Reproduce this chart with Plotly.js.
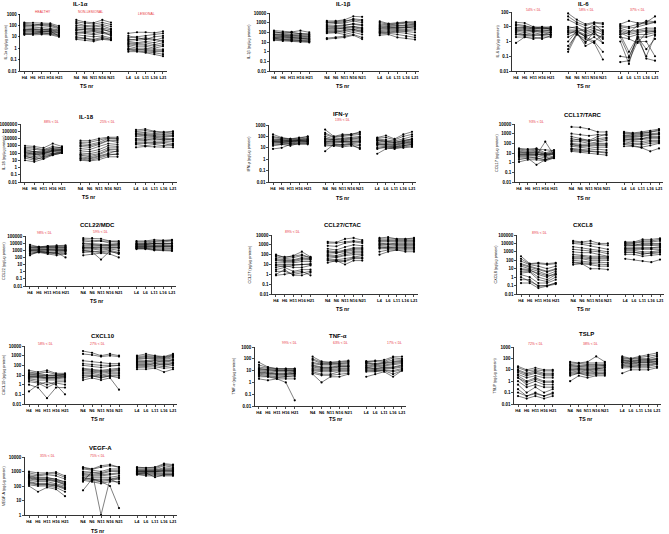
<!DOCTYPE html>
<html><head><meta charset="utf-8">
<script src="https://cdn.plot.ly/plotly-3.0.1.min.js"></script>
<style>html,body{margin:0;padding:0;background:#fff}#c{width:669px;height:534px}</style>
</head><body><div id="c"></div>
<script>
const cats = ['H4','H6','H11','H16','H21','N4','N6','N11','N16','N21','L4','L6','L11','L16','L21'];
const groupLabels = ['HEALTHY','NON-LESIONAL','LESIONAL'];

// IL-1α
const IL1a_H=[[180,170,160,150,90],[150,120,110,100,60],[120,100,130,120,70],[100,90,95,80,50],[80,70,60,55,40],[60,55,50,40,30],[45,40,35,35,25],[40,45,40,45,35],[35,30,30,25,20],[30,35,28,30,22],[25,25,20,20,15],[20,18,22,18,12],[18,15,16,15,10],[15,20,25,30,12]];
const IL1a_N=[[300,200,170,300,180],[200,150,130,180,120],[150,100,90,120,80],[100,80,70,90,50],[70,60,50,60,40],[50,40,35,40,30],[40,50,45,50,25],[35,30,30,25,20],[25,20,15,20,15],[20,25,20,30,12],[15,12,10,12,8],[10,8,6,9,6],[8,7,5,7,6],[6,5,4,6,5]];
const IL1a_L=[[20,25,25,22,30],[12,8,6,10,12],[8,10,12,15,20],[6,5,6,5,8],[5,6,8,6,4],[4,3,4,3,5],[3,2.5,3,2,3],[2.5,2,2,1.5,2],[2,1.5,1.5,1,1.5],[1.5,1,1,0.8,0.8],[1,0.8,0.6,0.5,0.5],[0.8,0.7,0.8,0.6,0.6],[0.7,0.6,0.5,0.4,0.3],[0.5,0.5,0.4,0.3,0.2]];
// IL-1β
const IL1b_H=[[150,120,110,150,100],[120,80,100,70,60],[100,90,90,80,70],[70,60,60,55,50],[60,55,50,45,40],[55,50,45,40,35],[45,40,35,30,28],[35,30,28,25,22],[30,35,30,25,20],[28,25,22,20,18],[25,18,16,14,12],[22,20,18,15,14],[18,15,14,12,11],[15,13,12,10,9]];
const IL1b_N=[[1500,1500,2000,4500,4000],[1200,1000,1200,2500,2000],[1000,1200,1500,2000,1500],[700,800,900,1500,1000],[500,400,500,800,600],[400,500,600,700,500],[300,300,350,400,300],[250,200,300,400,250],[200,250,250,300,200],[150,150,180,200,150],[120,100,150,200,120],[100,120,100,150,100],[80,90,60,100,60],[25,30,40,60,30],[20,25,30,50,20]];
const IL1b_L=[[1400,800,1000,1200,1100],[1000,700,800,1100,1200],[700,600,700,900,800],[500,400,500,600,700],[400,500,450,500,600],[300,350,300,400,500],[250,300,350,300,400],[200,250,250,300,350],[150,200,200,200,250],[120,150,150,150,180],[100,120,130,120,100],[90,100,100,80,50],[70,80,60,40,30],[50,60,30,25,18]];
// IL-6
const IL6_H=[[20,18,10,8,10],[15,12,8,9,7],[12,10,9,10,9],[9,8,8,7,8],[8,9,7,8,7],[7,7,6,6,6],[6,6,5,5,5],[6,5,6,5,6],[5,4,5,4,4],[4,3,4,3,4],[3,2.5,3,2.5,3],[3,3,2.5,3,3],[2,2,2,1.5,2.5],[0.8,2,1.5,2,2]];
const IL6_N=[[80,30,15,20,18],[50,20,12,18,15],[30,15,8,10,10],[10,8,6,15,5],[8,10,4,6,6],[6,6,5,8,4],[5,5,3,5,3],[4,4,2.5,3,2],[3,6,2,1,3],[2,4,0.8,5,0.8],[1,5,2,4,1.5],[0.5,3,1,2,0.8],[0.3,4,0.5,1,0.2],[0.2,3,1.5,0.8,0.06]];
const IL6_L=[[15,25,18,20,50],[12,10,15,18,20],[10,8,10,15,20],[8,5,6,8,8],[6,4,5,6,6],[5,3,4,5,5],[4,2,3,3,4],[3,0.2,2,2,3],[2,0.1,1.5,0.1,2.5],[2,1.5,0.8,4,5],[0.1,0.08,2,0.3,1.5],[0.04,0.05,1,1,0.1],[1,0.03,3,0.07,0.05],[3,4,12,25,22]];
// IL-18
const IL18_H=[[1000,800,500,2000,800],[600,500,300,800,500],[400,300,250,500,600],[300,150,120,250,300],[200,150,200,400,400],[150,100,150,300,300],[120,60,80,200,200],[100,80,100,200,250],[70,50,80,150,200],[50,30,60,100,150],[40,15,20,70,130],[30,20,40,80,120],[20,10,30,60,100],[10,6,15,50,100]];
const IL18_N=[[5000,5000,10000,15000,15000],[3000,3000,6000,12000,10000],[2000,1500,3000,10000,8000],[1200,1000,2000,6000,5000],[800,600,1500,5000,3000],[400,300,800,2000,1500],[200,150,300,1000,800],[100,80,150,500,500],[60,50,80,300,300],[50,30,60,200,150],[30,20,40,100,200],[20,15,30,70,60],[15,10,20,50,80],[10,8,12,30,30]];
const IL18_L=[[150000,200000,100000,80000,100000],[100000,120000,80000,60000,80000],[80000,60000,50000,40000,50000],[50000,40000,30000,30000,30000],[40000,30000,25000,20000,25000],[30000,25000,20000,15000,20000],[20000,15000,15000,10000,10000],[10000,8000,8000,8000,6000],[8000,6000,10000,6000,8000],[5000,5000,4000,5000,4000],[3000,3000,2000,3000,2000],[2000,2000,3000,2000,1000],[1500,1000,1500,1000,1500],[600,800,700,700,600]];
// IFN-γ
const IFNg_H=[[150,80,60,70,100],[100,70,60,80,90],[80,60,50,60,70],[60,50,45,55,60],[50,45,40,50,50],[45,50,40,45,50],[40,40,35,45,45],[35,35,30,40,40],[35,30,35,40,35],[30,30,25,35,35],[25,25,20,30,30],[20,20,15,25,25],[15,20,25,25,25],[8,10,20,20,20]];
const IFNg_N=[[400,100,150,150,250],[200,90,120,150,200],[150,80,100,120,150],[100,60,70,80,100],[70,50,50,60,70],[60,50,60,70,80],[50,40,40,50,50],[40,30,35,40,40],[35,35,40,40,35],[30,25,30,30,30],[25,20,20,25,20],[20,15,20,20,15],[15,15,12,15,10],[5,20,15,20,8]];
const IFNg_L=[[80,120,60,150,250],[70,80,50,100,150],[60,50,40,60,100],[50,40,30,40,60],[45,35,30,45,60],[40,30,25,35,50],[30,25,20,30,40],[25,20,15,25,30],[20,20,18,25,35],[20,15,12,20,25],[15,12,10,15,20],[10,10,8,12,15],[8,12,12,15,20],[3,8,10,10,12]];
// CCL17/TARC
const CCL17_H=[[30,25,30,10,20],[25,20,25,20,18],[20,15,20,8,15],[15,12,15,6,12],[12,10,12,8,10],[10,10,10,5,10],[8,8,8,4,8],[7,7,7,6,7],[6,6,6,150,6],[5,5,5,3,5],[4,4,3,2,4],[3,3,0.6,2,3],[2,3,3,2,4],[1.2,2,2,1.5,3]];
const CCL17_N=[[5000,4500,3000,1500,1500],[1000,800,600,800,700],[500,300,200,500,900],[300,200,150,300,400],[200,250,200,200,300],[150,150,100,150,200],[100,80,80,100,100],[80,60,60,80,80],[70,50,50,60,60],[50,40,30,40,40],[30,25,20,25,20],[25,20,15,15,12],[20,15,15,12,10],[15,12,10,8,6]];
const CCL17_L=[[1500,1200,1500,2000,3000],[1200,1000,1200,1500,2500],[1000,800,1000,1500,2000],[700,600,800,1000,1200],[600,500,600,800,1000],[500,400,500,700,800],[400,300,300,500,500],[300,200,250,300,300],[250,250,300,400,400],[200,150,150,200,200],[150,100,100,150,150],[100,80,70,100,120],[80,60,40,60,100],[50,50,35,15,30]];
// CCL22/MDC
const CCL22_H=[[6000,3000,4000,5000,5000],[4000,3000,3500,3500,4000],[3000,2500,3000,3000,3000],[2500,2200,2500,2500,2500],[2000,2000,2000,2000,2000],[1500,1500,1500,1500,1500],[1200,1200,1000,1000,1200],[1000,1200,1200,1000,1000],[1000,1000,800,800,1000],[800,800,600,600,800],[600,600,400,400,600],[400,600,500,300,400],[300,500,300,200,300],[200,700,500,500,100]];
const CCL22_N=[[50000,50000,40000,20000,20000],[30000,25000,20000,15000,15000],[20000,15000,20000,10000,10000],[10000,8000,6000,6000,8000],[8000,6000,5000,5000,6000],[5000,5000,4000,4000,5000],[3000,3000,2500,3000,3000],[2500,2500,2000,2500,2500],[2000,2000,1500,2000,2000],[1500,1500,1000,1500,1000],[1000,800,600,1000,500],[800,700,500,600,400],[500,600,50,800,300],[200,300,400,300,100]];
const CCL22_L=[[20000,20000,30000,25000,30000],[15000,15000,20000,20000,25000],[10000,10000,15000,15000,20000],[8000,8000,10000,10000,10000],[7000,7000,9000,8000,9000],[6000,6000,8000,7000,8000],[5000,5000,6000,5000,5000],[4000,4000,4000,4000,4000],[3500,3500,3500,3500,3500],[3000,3000,3000,3000,3000],[2500,2500,2000,2000,2000],[2000,2000,1500,1500,1500],[1800,1800,1200,1200,1000],[1500,1500,1000,1000,800]];
// CCL27/CTAC
const CCL27_H=[[100,50,80,200,60],[80,60,70,100,50],[60,40,50,80,50],[40,30,30,50,40],[30,25,25,40,35],[25,20,20,30,30],[15,15,15,20,20],[10,10,10,10,10],[8,6,8,10,12],[5,8,5,5,8],[3,5,2,3,3],[2,2,1,1.5,2],[1,3,0.8,0.8,1.5],[0.8,1,1.5,2,0.8]];
const CCL27_N=[[2000,1800,4000,5000,3000],[1500,1500,2000,2500,2000],[800,700,1500,2000,1500],[400,300,600,1000,800],[250,200,300,500,500],[200,150,250,400,400],[150,150,200,300,300],[100,80,150,200,200],[80,60,100,150,150],[60,50,80,100,100],[40,30,40,60,80],[30,25,25,50,50],[25,20,20,40,40],[15,25,10,25,25]];
const CCL27_L=[[5000,6000,4000,4000,5000],[4000,4000,3500,3500,4000],[3000,3000,3000,3000,3000],[2500,2500,2500,2500,2500],[2000,2000,2000,2000,2000],[1500,1200,1500,1500,1500],[1200,1200,1200,1200,1200],[1000,1000,1000,1000,1000],[800,700,800,800,800],[600,500,600,600,600],[500,500,500,500,500],[400,400,400,400,400],[200,300,300,300,300],[100,200,300,200,200]];
// CXCL8
const CXCL8_H=[[300,40,50,40,50],[150,35,40,30,40],[80,30,20,10,20],[40,20,10,5,10],[30,15,8,4,8],[20,10,5,2,5],[10,8,2,1,3],[8,6,3,1.5,2],[5,5,1,0.5,2],[3,4,0.5,0.3,1],[2,1,0.2,0.2,0.5],[1,0.3,0.1,0.1,0.2],[0.5,0.5,0.08,0.1,0.2],[0.2,0.2,0.05,0.08,0.15]];
const CXCL8_N=[[20000,15000,20000,10000,10000],[15000,12000,10000,8000,6000],[10000,8000,5000,3000,2000],[4000,3000,2000,1500,1000],[2000,1500,1200,1000,600],[1000,800,800,500,300],[500,400,300,300,250],[300,300,200,200,200],[200,200,150,150,150],[150,150,100,100,100],[100,80,60,60,50],[60,50,40,30,30],[50,40,30,20,20],[30,40,10,10,8]];
const CXCL8_L=[[15000,15000,30000,30000,40000],[12000,12000,20000,20000,30000],[10000,10000,15000,15000,20000],[8000,6000,10000,10000,10000],[6000,7000,8000,8000,8000],[5000,5000,5000,6000,6000],[3000,3000,3000,3000,4000],[2500,2500,2500,2500,3000],[2000,2000,2000,2000,2000],[1500,1500,1000,1000,1500],[1000,800,700,600,800],[800,1000,500,800,1000],[500,500,300,400,500],[150,120,80,60,120]];
// CXCL10
const CXCL10_H=[[30,20,30,15,15],[20,15,20,12,12],[15,15,10,10,12],[12,10,9,9,10],[10,10,8,8,10],[8,8,6,6,8],[7,7,5,6,7],[6,6,5,5,6],[5,5,4,4,5],[4,3,3,3,3],[3,2,1,2,2],[2,1.5,0.5,1.5,1],[1,0.5,0.04,0.5,0.5],[0.2,1,2,1,0.1]];
const CXCL10_N=[[3000,2000,1000,1500,1000],[1500,1200,800,1000,800],[300,250,200,150,150],[150,120,100,100,100],[100,80,60,80,100],[50,40,30,40,50],[40,30,25,30,40],[30,25,20,25,30],[20,20,15,20,20],[15,15,10,15,15],[10,10,8,10,10],[8,8,6,8,8],[5,8,5,8,5],[3,5,3,5,0.3]];
const CXCL10_L=[[1000,1500,1000,800,1500],[800,1000,900,700,1200],[600,800,700,600,1000],[500,600,600,500,800],[400,500,500,400,600],[300,300,400,300,400],[250,250,300,250,350],[200,200,300,200,300],[150,150,200,150,200],[120,120,150,120,150],[100,100,150,100,150],[80,80,100,70,100],[60,60,70,50,60],[40,40,50,20,40]];
// TNF-α
const TNFa_H=[[50,20,15,15,15],[30,18,14,14,14],[20,15,12,12,12],[15,12,10,10,10],[14,12,10,10,10],[12,10,8,8,8],[10,8,6,6,8],[8,6,5,5,6],[7,6,5,5,6],[6,5,4,4,5],[5,4,3,3,4],[4,3,2.5,3,3],[3,3,2,2,2],[2,1.5,2,1,0.03]];
const TNFa_N=[[150,60,50,60,70],[100,50,50,50,60],[80,40,40,40,50],[50,35,35,35,40],[40,30,30,30,30],[30,20,20,25,25],[25,18,18,22,22],[20,15,15,20,20],[15,12,12,15,15],[12,10,10,12,12],[10,8,8,10,10],[8,5,5,8,8],[6,4,4,5,6],[5,1,3,3,5]];
const TNFa_L=[[60,60,80,150,150],[60,70,60,120,100],[50,40,50,80,80],[45,35,45,60,70],[40,30,40,50,60],[30,25,30,40,50],[25,20,25,30,40],[20,15,20,20,30],[18,14,18,18,25],[15,12,15,15,20],[12,10,12,10,15],[10,9,11,8,12],[8,8,10,5,10],[3,5,8,3,10]];
// TSLP
const TSLP_H=[[20,10,15,10,10],[15,8,10,8,8],[10,5,8,5,5],[8,4,6,4,4],[6,3,5,3,3],[4,2,3,2,2],[3,1,2,1,1],[2,0.8,1.5,0.8,0.8],[2,0.5,1,0.5,0.5],[1,0.3,0.5,0.3,0.3],[0.5,0.1,0.3,0.1,0.2],[0.2,0.05,0.1,0.05,0.1],[0.1,0.05,0.08,0.05,0.08],[0.05,0.03,0.05,0.03,0.05]];
const TSLP_N=[[50,40,50,150,50],[40,35,40,40,40],[30,25,30,30,30],[25,20,25,25,25],[20,20,20,20,25],[15,15,15,15,20],[12,12,12,12,15],[10,12,10,12,15],[8,10,8,10,10],[6,8,6,8,8],[5,6,5,6,6],[4,5,4,5,4],[3,5,3,4,5],[1,3,2,3,3]];
const TSLP_L=[[150,100,150,200,300],[120,90,120,150,200],[100,80,100,100,150],[80,60,80,80,100],[70,55,70,70,90],[60,50,60,60,80],[50,40,50,50,60],[45,35,45,45,55],[40,30,40,40,50],[30,25,30,30,40],[25,20,25,25,35],[20,20,20,20,30],[15,15,15,15,20],[5,10,10,10,15]];
// VEGF-A
const VEGF_H=[[1000,800,800,900,500],[800,600,700,700,400],[600,500,600,500,300],[500,400,400,300,200],[450,350,350,300,180],[400,300,300,250,150],[350,280,280,220,130],[300,250,250,200,120],[250,200,200,150,100],[200,150,150,120,80],[180,130,130,110,70],[150,120,120,100,60],[120,100,100,80,40],[100,40,80,60,20]];
const VEGF_N=[[2000,1500,2500,3000,2000],[1800,1400,2000,2500,2000],[1500,1200,1000,1500,1500],[1000,900,800,1200,1200],[800,800,700,1000,1000],[700,600,600,700,800],[600,500,500,600,700],[500,400,400,400,500],[400,300,300,300,400],[350,280,250,280,350],[300,250,200,250,300],[250,200,150,200,200],[200,1000,1,300,150],[50,300,200,100,3]];
const VEGF_L=[[2000,1800,2000,3500,3000],[1800,1700,1800,3000,2500],[1500,1500,1500,2500,2000],[1300,1300,1300,1800,1700],[1200,1200,1200,1500,1500],[1100,1100,1100,1300,1300],[1000,1000,1000,1200,1200],[950,950,950,1100,1100],[900,900,900,1000,1000],[800,800,800,800,800],[700,700,700,700,700],[600,600,600,600,600],[650,500,500,500,500],[700,800,400,600,600]];

const W=669,H=534;
// panel geometry in pixels
const panels=[
 {t:'IL-1α',yl:'IL-1α (pg/µg protein)',d:[IL1a_H,IL1a_N,IL1a_L],p0:24.3,p16:163,yt:14,yb:71,lo:-2,hi:3,tx:80,ty:4,ylx:5,tsx:86,tsy:86,red:[['HEALTHY',43,12],['NON-LESIONAL',90,12],['LESIONAL',146,14]]},
 {t:'IL-1β',yl:'IL-1β (pg/µg protein)',d:[IL1b_H,IL1b_N,IL1b_L],p0:274,p16:415,yt:13,yb:71,lo:-2,hi:4,tx:343,ty:4,ylx:249,tsx:342,tsy:86,red:[]},
 {t:'IL-6',yl:'IL-6 (pg/µg protein)',d:[IL6_H,IL6_N,IL6_L],p0:516,p16:655,yt:12,yb:71,lo:-2,hi:2,tx:583,ty:4,ylx:497,tsx:583,tsy:86,red:[['54% < DL',533,10],['58% < DL',586,10],['37% < DL',637,10]]},
 {t:'IL-18',yl:'IL-18 (pg/µg protein)',d:[IL18_H,IL18_N,IL18_L],p0:25,p16:173,yt:124,yb:182,lo:-2,hi:6,tx:87,ty:117,ylx:4,tsx:88,tsy:197,red:[['88% < DL',51,122],['25% < DL',107,122]]},
 {t:'IFN-γ',yl:'IFN-γ (pg/µg protein)',d:[IFNg_H,IFNg_N,IFNg_L],p0:273,p16:412,yt:125,yb:182,lo:-2,hi:3,tx:341,ty:114,ylx:248,tsx:342,tsy:198,red:[['13% < DL',342,120]]},
 {t:'CCL17/TARC',yl:'CCL17 (pg/µg protein)',d:[CCL17_H,CCL17_N,CCL17_L],p0:519,p16:659,yt:124,yb:182,lo:-2,hi:4,tx:583,ty:115,ylx:497,tsx:583,tsy:198,red:[['93% < DL',536,122]]},
 {t:'CCL22/MDC',yl:'CCL22 (pg/µg protein)',d:[CCL22_H,CCL22_N,CCL22_L],p0:30,p16:172,yt:236,yb:286,lo:-2,hi:5,tx:97,ty:225,ylx:4,tsx:96,tsy:301,red:[['98% < DL',44,233],['59% < DL',100,232]]},
 {t:'CCL27/CTAC',yl:'CCL27 (pg/µg protein)',d:[CCL27_H,CCL27_N,CCL27_L],p0:276,p16:414,yt:235,yb:294,lo:-2,hi:4,tx:343,ty:225,ylx:249,tsx:342,tsy:309,red:[['89% < DL',292,232]]},
 {t:'CXCL8',yl:'CXCL8 (pg/µg protein)',d:[CXCL8_H,CXCL8_N,CXCL8_L],p0:521,p16:660,yt:235,yb:294,lo:-2,hi:5,tx:583,ty:225,ylx:495,tsx:583,tsy:309,red:[['89% < DL',539,233]]},
 {t:'CXCL10',yl:'CXCL10 (pg/µg protein)',d:[CXCL10_H,CXCL10_N,CXCL10_L],p0:29,p16:173,yt:346,yb:404,lo:-2,hi:4,tx:103,ty:336,ylx:4,tsx:97,tsy:419,red:[['58% < DL',45,344],['27% < DL',97,344]]},
 {t:'TNF-α',yl:'TNF-α (pg/µg protein)',d:[TNFa_H,TNFa_N,TNFa_L],p0:259,p16:402,yt:347,yb:406,lo:-2,hi:3,tx:338,ty:336,ylx:233,tsx:335,tsy:419,red:[['99% < DL',289,343],['63% < DL',340,343],['17% < DL',394,343]]},
 {t:'TSLP',yl:'TSLP (pg/µg protein)',d:[TSLP_H,TSLP_N,TSLP_L],p0:518,p16:657,yt:347,yb:404,lo:-2,hi:3,tx:586,ty:334,ylx:494,tsx:585,tsy:419,red:[['72% < DL',535,344],['38% < DL',590,344]]},
 {t:'VEGF-A',yl:'VEGF-A (pg/µg protein)',d:[VEGF_H,VEGF_N,VEGF_L],p0:29,p16:173,yt:457,yb:515,lo:0,hi:4,tx:100,ty:448,ylx:4,tsx:97,tsy:531,red:[['35% < DL',47,456],['75% < DL',98,456]]}
];

const FONT='Liberation Sans, Arial, sans-serif';
const catPos=cats.map((c,i)=>Math.floor(i/5)*6+(i%5));
function fmt(e){return e<0?(Math.pow(10,e)).toFixed(-e):String(Math.pow(10,e));}

const traces=[],layout={width:W,height:H,margin:{l:0,r:0,t:0,b:0},showlegend:false,
 paper_bgcolor:'#fff',plot_bgcolor:'rgba(0,0,0,0)',annotations:[],font:{family:FONT,color:'#000'}};
function ann(text,x,y,size,color,opts){
 layout.annotations.push(Object.assign({text:text,x:x/W,y:1-y/H,xref:'paper',yref:'paper',showarrow:false,
  xanchor:'center',yanchor:'middle',font:{family:FONT,size:size,color:color}},opts||{}));
}
panels.forEach((p,k)=>{
 const n=k+1, xs='x'+(n===1?'':n), ys='y'+(n===1?'':n);
 const s=(p.p16-p.p0)/16, pad=0.45;
 const xa=p.p0-pad*s, xb=p.p16+pad*s;
 layout['xaxis'+(n===1?'':n)]={domain:[xa/W,xb/W],range:[-pad,16+pad],anchor:ys,
  tickvals:catPos,ticktext:cats,ticks:'outside',ticklen:2,tickwidth:0.7,tickcolor:'#000',
  showline:true,linewidth:0.8,linecolor:'#000',showgrid:false,zeroline:false,
  tickfont:{family:FONT,size:4.2,color:'#000',weight:'bold'},tickangle:0,fixedrange:true};
 const tv=[],tt=[];
 for(let e=p.lo;e<=p.hi;e++){tv.push(Math.pow(10,e));tt.push(fmt(e));}
 layout['yaxis'+(n===1?'':n)]={domain:[1-p.yb/H,1-p.yt/H],type:'log',range:[p.lo,p.hi],anchor:xs,
  tickvals:tv,ticktext:tt,ticks:'outside',ticklen:2,tickwidth:0.7,tickcolor:'#000',
  showline:true,linewidth:0.8,linecolor:'#000',showgrid:false,zeroline:false,
  tickfont:{family:FONT,size:4.5,color:'#000',weight:'bold'},fixedrange:true};
 p.d.forEach((grp,g)=>{
  const x=[],y=[];
  grp.forEach(row=>{row.forEach((v,j)=>{x.push(catPos[g*5+j]);y.push(v);});x.push(null);y.push(null);});
  traces.push({type:'scatter',mode:'lines+markers',x:x,y:y,xaxis:xs,yaxis:ys,connectgaps:false,
   line:{color:'#000',width:0.5},marker:{color:'#000',size:2.2,symbol:'circle'},hoverinfo:'skip'});
 });
 ann('<b>'+p.t+'</b>',p.tx,p.ty,6,'#000');
 ann(p.yl,p.ylx,(p.yt+p.yb)/2,3.8,'#000',{textangle:-90});
 ann('<b>TS nr</b>',p.tsx,p.tsy,5.2,'#000');
 p.red.forEach(r=>ann(r[0],r[1],r[2],3.4,'#e8343a'));
});
Plotly.newPlot('c',traces,layout,{staticPlot:true,displayModeBar:false});
</script></body></html>
